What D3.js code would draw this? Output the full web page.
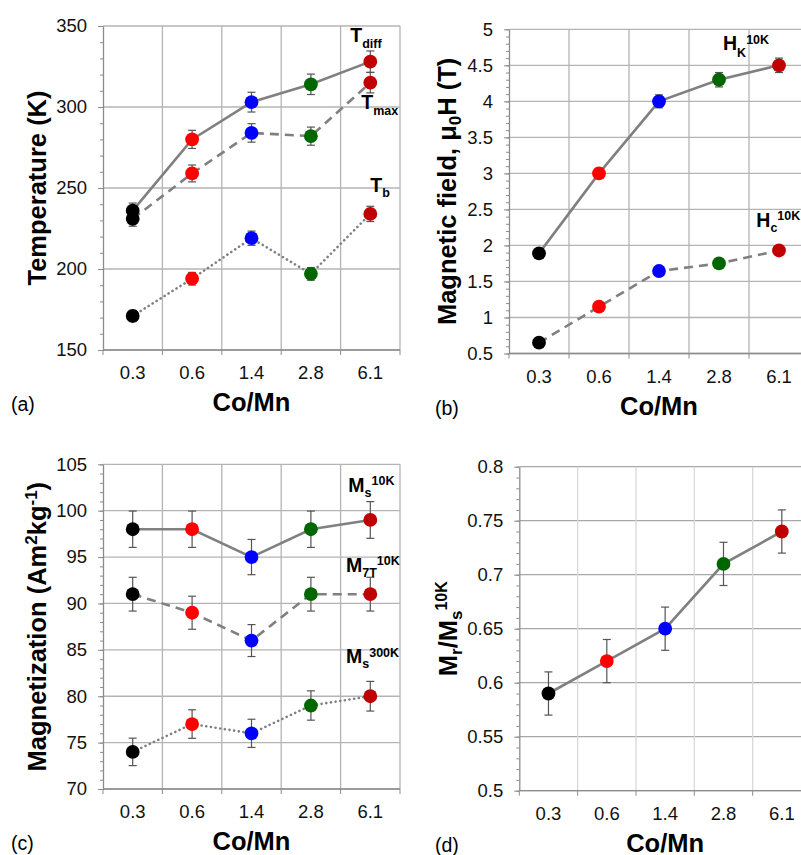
<!DOCTYPE html>
<html>
<head>
<meta charset="utf-8">
<script src="https://cdn.jsdelivr.net/npm/d3@7"></script>
<style>
  body { margin: 0; background: #fff; }
  svg { display: block; font-family: "Liberation Sans", Arial, sans-serif; }
</style>
</head>
<body>
<svg id="chart" width="801" height="855"></svg>
<script>
'use strict'

const categories = ['0.3', '0.6', '1.4', '2.8', '6.1'];
const pointColors = ['#000000', '#ff0000', '#0000ff', '#006600', '#c00000'];

// (a) temperatures, K
const tDiff = [236, 280, 303, 314, 328];
const tDiffErr = [4.7, 5.6, 6.1, 6.3, 6.6];
const tMax = [231, 259, 284, 282, 315];
const tMaxErr = [4.6, 5.2, 5.7, 5.6, 6.3];
const tB = [171, 194, 219, 197, 234];
const tBErr = [3.4, 3.9, 4.4, 3.9, 4.7];

// (b) fields, T
const hK = [1.89, 3.0, 4.0, 4.3, 4.5];
const hKErr = [0.05, 0.07, 0.09, 0.1, 0.1];
const hC = [0.65, 1.15, 1.645, 1.75, 1.93];
const hCErr = [0.01, 0.02, 0.03, 0.035, 0.04];

// (c) magnetization, Am2/kg
const ms10K = [98, 98, 95, 98, 99];
const ms10KErr = [1.96, 1.96, 1.9, 1.96, 1.98];
const m7T = [91, 89, 86, 91, 91];
const m7TErr = [1.82, 1.78, 1.72, 1.82, 1.82];
const ms300K = [74, 77, 76, 79, 80];
const ms300KErr = [1.48, 1.54, 1.52, 1.58, 1.6];

// (d) Mr/Ms
const mrMs = [0.59, 0.62, 0.65, 0.71, 0.74];
const mrMsErr = [0.02, 0.02, 0.02, 0.02, 0.02];

const svg = d3.select('#chart');

const LINE_COLOR = '#808080';
const SOLID = null, DASHED = '9,6', DOTTED = '0.1,4.6';

function numFmt(d) {
    return String(+d.toFixed(2));
}

function addParts(text, parts) {
    // parts: [string, kind] with kind '' / 'sub' / 'sup'
    let level = 0;
    for (let [str, kind, size, shift] of parts) {
        let target = kind === 'sub' ? shift : kind === 'sup' ? -shift : 0;
        let ts = text.append('tspan').text(str).attr('dy', target - level);
        if (size) ts.attr('font-size', size);
        level = target;
    }
}

function drawPanel(p) {

    let g = svg.append('g');

    let x = d3.scaleBand().domain(categories).range([p.left, p.right]);
    let y = d3.scaleLinear().domain(p.yDomain).range([p.bottom, p.top]);
    let cx = c => x(c) + x.bandwidth() / 2;

    let major = y.ticks(p.majorCount);
    let minor = y.ticks(p.minorCount);
    let bounds = categories.map(c => x(c)).concat([p.right]);

    // grid
    g.append('g').selectAll('line').data(major).join('line')
        .attr('x1', p.left).attr('x2', p.right)
        .attr('y1', d => y(d)).attr('y2', d => y(d))
        .attr('stroke', p.hGrid).attr('stroke-width', 1.3);

    g.append('g').selectAll('line').data(bounds.slice(1)).join('line')
        .attr('x1', d => d).attr('x2', d => d)
        .attr('y1', p.top).attr('y2', p.bottom)
        .attr('stroke', p.vGrid).attr('stroke-width', 1.3);

    // y axis: minor then major
    let minorAxis = g.append('g')
        .attr('transform', 'translate(' + p.left + ',0)')
        .call(d3.axisLeft(y).tickValues(minor).tickSize(3).tickSizeOuter(0).tickFormat(''));
    minorAxis.select('.domain').remove();
    minorAxis.selectAll('line').attr('stroke', '#8c8c8c');

    let yAxis = g.append('g')
        .attr('transform', 'translate(' + p.left + ',0)')
        .call(d3.axisLeft(y).tickValues(major).tickSize(5).tickSizeOuter(0)
            .tickPadding(11).tickFormat(numFmt));
    yAxis.select('.domain').attr('stroke', '#8c8c8c').attr('stroke-width', 1.3);
    yAxis.selectAll('line').attr('stroke', '#8c8c8c');
    yAxis.selectAll('text').attr('font-size', 18.5).attr('fill', '#111')
        .attr('font-family', '"Liberation Sans", Arial, sans-serif');

    // x axis
    g.append('line')
        .attr('x1', p.left).attr('x2', p.right)
        .attr('y1', p.bottom).attr('y2', p.bottom)
        .attr('stroke', '#8c8c8c').attr('stroke-width', 1.3);

    g.append('g').selectAll('line').data(bounds).join('line')
        .attr('x1', d => d).attr('x2', d => d)
        .attr('y1', p.bottom).attr('y2', p.bottom + 5)
        .attr('stroke', '#8c8c8c');

    let xAxis = g.append('g')
        .attr('transform', 'translate(0,' + p.bottom + ')')
        .call(d3.axisBottom(x).tickSize(0).tickPadding(16));
    xAxis.select('.domain').remove();
    xAxis.selectAll('text').attr('font-size', 18.5).attr('fill', '#111')
        .attr('font-family', '"Liberation Sans", Arial, sans-serif');

    // titles
    g.append('text')
        .attr('x', (p.left + p.right) / 2).attr('y', p.bottom + 61)
        .attr('text-anchor', 'middle')
        .attr('font-size', 25.5).attr('font-weight', 'bold')
        .text('Co/Mn');

    let yt = g.append('text')
        .attr('transform', 'translate(' + p.yTitleX + ',' + (p.top + p.bottom) / 2 + ') rotate(-90)')
        .attr('text-anchor', 'middle')
        .attr('font-size', 25.5).attr('font-weight', 'bold');
    addParts(yt, p.yTitle);

    g.append('text')
        .attr('x', p.letterX).attr('y', p.bottom + 61)
        .attr('font-size', 19.5)
        .text(p.letter);

    // series
    let line = d3.line().x((d, i) => cx(categories[i])).y(d => y(d));

    for (let s of p.series) {

        g.append('path')
            .attr('d', line(s.values))
            .attr('fill', 'none')
            .attr('stroke', LINE_COLOR)
            .attr('stroke-width', 2.6)
            .attr('stroke-linecap', s.dash === DOTTED ? 'round' : 'butt')
            .attr('stroke-dasharray', s.dash);

        let bars = g.append('g').attr('stroke', '#555').attr('stroke-width', 1.2);
        s.values.forEach((v, i) => {
            let px = cx(categories[i]);
            let e = s.errors[i];
            bars.append('line')
                .attr('x1', px).attr('x2', px)
                .attr('y1', y(v - e)).attr('y2', y(v + e));
            for (let ev of [v - e, v + e]) {
                bars.append('line')
                    .attr('x1', px - 4).attr('x2', px + 4)
                    .attr('y1', y(ev)).attr('y2', y(ev));
            }
        });
    }

    for (let s of p.series) {
        g.append('g').selectAll('circle').data(s.values).join('circle')
            .attr('cx', (d, i) => cx(categories[i]))
            .attr('cy', d => y(d))
            .attr('r', 6.9)
            .attr('fill', (d, i) => pointColors[i]);

        let lab = g.append('text')
            .attr('x', cx(categories[categories.length - 1]) + s.label.dx)
            .attr('y', y(s.label.at))
            .attr('font-weight', 'bold')
            .attr('font-size', 19.5)
            .attr('fill', '#000');
        addParts(lab, s.label.parts);
    }
}

const SUB = 12.5;

drawPanel({
    left: 103, right: 400, top: 26, bottom: 350,
    yDomain: [150, 350], majorCount: 4, minorCount: 20,
    hGrid: '#b4b4b4', vGrid: '#b4b4b4',
    yTitleX: 45.5, yTitle: [['Temperature (K)', '']],
    letter: '(a)', letterX: 11,
    series: [
        { values: tDiff, errors: tDiffErr, dash: SOLID,
          label: { dx: -20, at: 340, parts: [['T', ''], ['diff', 'sub', SUB, 6]] } },
        { values: tMax, errors: tMaxErr, dash: DASHED,
          label: { dx: -9, at: 299, parts: [['T', ''], ['max', 'sub', SUB, 6.5]] } },
        { values: tB, errors: tBErr, dash: DOTTED,
          label: { dx: 0, at: 247.5, parts: [['T', ''], ['b', 'sub', SUB, 5]] } }
    ]
});

drawPanel({
    left: 509, right: 809, top: 29.3, bottom: 353.5,
    yDomain: [0.5, 5], majorCount: 9, minorCount: 45,
    hGrid: '#b4b4b4', vGrid: '#b4b4b4',
    yTitleX: 456, yTitle: [['Magnetic field, μ', ''], ['0', 'sub', 17, 5], ['H (T)', '']],
    letter: '(b)', letterX: 435,
    series: [
        { values: hK, errors: hKErr, dash: SOLID,
          label: { dx: -56, at: 4.71, parts: [['H', ''], ['K', 'sub', SUB, 6.5], ['10K', 'sup', SUB, 6]] } },
        { values: hC, errors: hCErr, dash: DASHED,
          label: { dx: -22.7, at: 2.26, parts: [['H', ''], ['c', 'sub', SUB, 5.5], ['10K', 'sup', SUB, 6.5]] } }
    ]
});

drawPanel({
    left: 103, right: 400, top: 464.3, bottom: 789,
    yDomain: [70, 105], majorCount: 7, minorCount: 35,
    hGrid: '#b4b4b4', vGrid: '#b4b4b4',
    yTitleX: 45.7,
    yTitle: [['Magnetization (Am', ''], ['2', 'sup', 17, 9], ['kg', ''], ['-1', 'sup', 17, 9], [')', '']],
    letter: '(c)', letterX: 11,
    series: [
        { values: ms10K, errors: ms10KErr, dash: SOLID,
          label: { dx: -22, at: 102.05, parts: [['M', ''], ['s', 'sub', SUB, 5], ['10K', 'sup', SUB, 6.7]] } },
        { values: m7T, errors: m7TErr, dash: DASHED,
          label: { dx: -24.3, at: 93.43, parts: [['M', ''], ['7T', 'sub', SUB, 5], ['10K', 'sup', SUB, 6.7]] } },
        { values: ms300K, errors: ms300KErr, dash: DOTTED,
          label: { dx: -24.3, at: 83.56, parts: [['M', ''], ['s', 'sub', SUB, 5], ['300K', 'sup', SUB, 6.7]] } }
    ]
});

drawPanel({
    left: 519.3, right: 811, top: 466.7, bottom: 790.7,
    yDomain: [0.5, 0.8], majorCount: 6, minorCount: 30,
    hGrid: '#a8a8a8', vGrid: '#d9d9d9',
    yTitleX: 456.7,
    yTitle: [['M', ''], ['r', 'sub', 17, 5], ['/M', ''], ['s', 'sub', 17, 5], ['10K', 'sup', 16, 10]],
    letter: '(d)', letterX: 435,
    series: [
        { values: mrMs, errors: mrMsErr, dash: SOLID,
          label: { dx: 0, at: 0.8, parts: [] } }
    ]
});

</script>
</body>
</html>
